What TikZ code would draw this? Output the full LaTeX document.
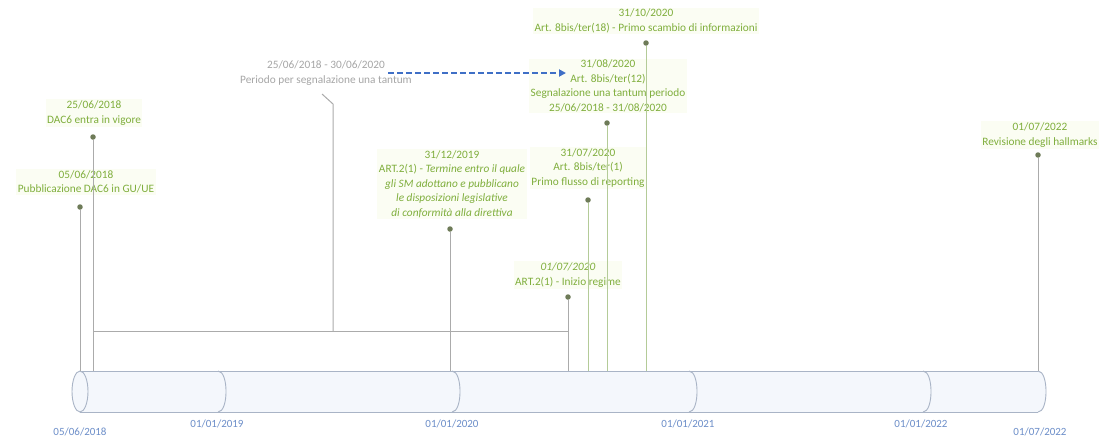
\documentclass[tikz,border=0pt]{standalone}
\usepackage{fontspec}
\setmainfont{Carlito}
\usetikzlibrary{arrows.meta}
\definecolor{evgreen}{HTML}{7FAE3C}
\definecolor{glow}{HTML}{FBFDF3}
\definecolor{dotcol}{HTML}{6E7B58}
\definecolor{stemgray}{HTML}{ABABAB}
\definecolor{stemgreen}{HTML}{B4CB98}
\definecolor{pergray}{HTML}{A6A6A6}
\definecolor{axisblue}{HTML}{6C8EC9}
\definecolor{barline}{HTML}{A9B4C6}
\definecolor{barfill}{HTML}{F4F7FC}
\definecolor{arrblue}{HTML}{3F6FC6}
\begin{document}
\begin{tikzpicture}[x=1pt,y=-1pt,
  evtext/.style={text=evgreen, font=\fontsize{11.3}{14.5}\selectfont, align=center, inner sep=1.5pt, fill=glow},
  pertext/.style={text=pergray, font=\fontsize{11.3}{15}\selectfont, align=center, inner sep=1.5pt},
  axisdate/.style={text=axisblue, font=\fontsize{11}{13}\selectfont, inner sep=1pt},
  evdot/.style={circle, fill=dotcol, inner sep=0pt, minimum size=5.5pt},
  stem/.style={draw=stemgray, line width=1pt},
  stemg/.style={draw=stemgreen, line width=1pt},
  barstroke/.style={draw=barline, line width=0.9pt}]
\useasboundingbox (0,0) rectangle (1104,439);
\fill[white] (0,0) rectangle (1104,439);

% timeline cylinder body
\fill[barfill] (80,371) -- (1038,371) .. controls (1049,371) and (1049,412) .. (1038,412) -- (80,412) -- cycle;
\draw[barstroke] (80,371) -- (1038,371);
\draw[barstroke] (80,412) -- (1038,412);
% year boundaries and right end
\foreach \bx in {218,452,689,923,1038}
  \draw[barstroke] (\bx,371) .. controls (\bx+10.7,371) and (\bx+10.7,412) .. (\bx,412);
% left end
\draw[barstroke, fill=barfill] (80,391.5) ellipse [x radius=8, y radius=20.5];

% dates under the bar
\node[axisdate] (x0) at (80,432) {05/06/2018};
\node[axisdate] (x1) at (217,424) {01/01/2019};
\node[axisdate] (x2) at (452,424) {01/01/2020};
\node[axisdate] (x3) at (688,424) {01/01/2021};
\node[axisdate] (x4) at (921,424) {01/01/2022};
\node[axisdate] (x5) at (1040,432) {01/07/2022};

% event labels
\node[evtext] (tA) at (86,182) {05/06/2018\\Pubblicazione DAC6 in GU/UE};
\node[evtext] (tB) at (94,113) {25/06/2018\\DAC6 entra in vigore};
\node[evtext] (tC) at (452,184) {31/12/2019\\ART.2(1) - \textit{Termine entro il quale}\\\textit{gli SM adottano e pubblicano}\\\textit{le disposizioni legislative}\\\textit{di conformità alla direttiva}};
\node[evtext] (tD) at (568,275) {\textit{01/07/2020}\\ART.2(1) - Inizio regime};
\node[evtext] (tE) at (588,168) {31/07/2020\\Art. 8bis/ter(1)\\Primo flusso di reporting};
\node[evtext] (tF) at (608,86) {31/08/2020\\Art. 8bis/ter(12)\\Segnalazione una tantum periodo\\25/06/2018 - 31/08/2020};
\node[evtext] (tG) at (646,21) {31/10/2020\\Art. 8bis/ter(18) - Primo scambio di informazioni};
\node[evtext] (tH) at (1040,135) {01/07/2022\\Revisione degli hallmarks};
\node[pertext] (tP) at (326,73) {25/06/2018 - 30/06/2020\\Periodo per segnalazione una tantum};

% markers
\node[evdot] (dA) at (80,207) {};
\node[evdot] (dB) at (93,137) {};
\node[evdot] (dC) at (450,229) {};
\node[evdot] (dD) at (568,297) {};
\node[evdot] (dE) at (588,200) {};
\node[evdot] (dF) at (607,123) {};
\node[evdot] (dG) at (646,43) {};
\node[evdot] (dH) at (1038,155) {};

% landing points on the bar
\coordinate (bA) at (80,371);
\coordinate (bB) at (93,371);
\coordinate (bC) at (450,371);
\coordinate (bD) at (568,371);
\coordinate (bE) at (588,371);
\coordinate (bF) at (607,371);
\coordinate (bG) at (646,371);
\coordinate (bH) at (1038,371);

% stems
\draw[stem] (dA) -- (bA);
\draw[stem] (dB) -- (bB);
\draw[stem] (dC) -- (bC);
\draw[stem] (dD) -- (bD);
\draw[stemg] (dE) -- (bE);
\draw[stemg] (dF) -- (bF);
\draw[stemg] (dG) -- (bG);
\draw[stem] (dH) -- (bH);

% reporting window bracket
\coordinate (kL) at (93,331);
\coordinate (kR) at (568,331);
\coordinate (kM) at (333,331);
\coordinate (kT) at (333,104);
\coordinate (kS) at (322,94);
\draw[stem] (kL) -- (kR);
\draw[stem] (kS) -- (kT) -- (kM);

% extension of the one-off period
\coordinate (aS) at (388,73);
\coordinate (aE) at (566,73);
\draw[arrblue, line width=2pt, dash pattern=on 6pt off 3pt, -{Triangle[length=7pt,width=7pt]}] (aS) -- (aE);
\end{tikzpicture}
\end{document}
